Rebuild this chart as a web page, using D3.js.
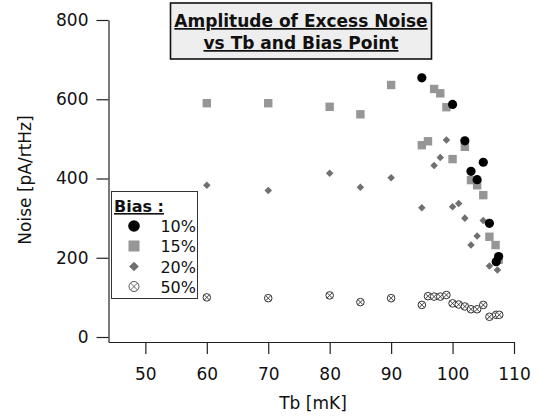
<!DOCTYPE html>
<html>
<head>
<meta charset="utf-8">
<script src="https://cdn.jsdelivr.net/npm/d3@7"></script>
<style>
  html, body { margin: 0; padding: 0; background: #fff; }
  svg { display: block; font-family: "DejaVu Sans", sans-serif; }
</style>
</head>
<body>
<div id="chart"></div>
<script>
// Données (Tb en mK, bruit en pA/rtHz)
const bias10 = [
  [95, 654], [100, 587], [102, 495], [103, 418], [104, 397],
  [105, 441], [106, 287], [107.1, 190], [107.5, 203]
];
const bias15 = [
  [60, 590], [70, 590], [80, 581], [85, 562], [90, 636],
  [95, 484], [96, 494], [97, 626], [98, 615], [99, 580],
  [100, 449], [102, 480], [103, 396], [104, 383], [105, 358],
  [106, 253], [107, 232], [107.5, 195]
];
const bias20 = [
  [60, 383], [70, 370], [80, 413], [85, 378], [90, 402],
  [95, 326], [97, 433], [98, 453], [99, 497], [100, 329],
  [101, 337], [102, 300], [103, 232], [104, 255], [105, 294],
  [106, 179], [107.3, 169]
];
const bias50 = [
  [60, 100], [70, 98], [80, 105], [85, 88], [90, 98],
  [95, 81], [96, 103], [97, 102], [98, 102], [99, 106],
  [100, 85], [101, 82], [102, 77], [103, 70], [104, 70],
  [105, 81], [106, 51], [107.1, 56], [107.6, 56]
];
const xTicks = [50, 60, 70, 80, 90, 100, 110];
const yTicks = [0, 200, 400, 600, 800];
const legendLabels = ["10%", "15%", "20%", "50%"];

const width = 539, height = 418;

const svg = d3.select('#chart').append('svg')
  .attr('width', width)
  .attr('height', height);

// Échelles
const x = d3.scaleLinear().domain([44, 110]).range([108.5, 514]);
const y = d3.scaleLinear().domain([-12.6, 800]).range([342, 20]);

// Axe X
const xAxis = svg.append('g')
  .attr('transform', `translate(0,${y(-12.6)})`)
  .call(d3.axisBottom(x).tickValues(xTicks).tickSize(12).tickSizeOuter(0).tickPadding(14));

// Axe Y
const yAxis = svg.append('g')
  .attr('transform', `translate(${x(44)},0)`)
  .call(d3.axisLeft(y).tickValues(yTicks).tickSize(12).tickSizeOuter(0).tickPadding(8));

[xAxis, yAxis].forEach(a => {
  a.select('.domain').attr('stroke', '#222').attr('stroke-width', 1.2);
  a.selectAll('.tick line').attr('stroke', '#222').attr('stroke-width', 1.2);
  a.selectAll('.tick text')
    .attr('fill', '#111')
    .style('font-family', '"DejaVu Sans", sans-serif')
    .style('font-size', '17px');
});

// Titres des axes
svg.append('text')
  .attr('x', 313).attr('y', 409)
  .attr('text-anchor', 'middle')
  .attr('font-size', 17)
  .attr('fill', '#111')
  .text('Tb [mK]');

svg.append('text')
  .attr('transform', 'translate(31,180) rotate(-90)')
  .attr('text-anchor', 'middle')
  .attr('font-size', 17)
  .attr('fill', '#111')
  .text('Noise [pA/rtHz]');

// Symboles
function drawCircleX(g, cx, cy, r, stroke) {
  g.append('circle')
    .attr('cx', cx).attr('cy', cy).attr('r', r)
    .attr('fill', '#fff').attr('stroke', stroke).attr('stroke-width', 1);
  const d = r * 0.7;
  g.append('path')
    .attr('d', `M${cx - d},${cy - d}L${cx + d},${cy + d}M${cx - d},${cy + d}L${cx + d},${cy - d}`)
    .attr('stroke', stroke).attr('stroke-width', 0.9);
}

const plot = svg.append('g');

// 50 %
const g50 = plot.append('g');
bias50.forEach(d => drawCircleX(g50, x(d[0]), y(d[1]), 3.8, '#333'));

// 20 %
plot.append('g').selectAll('path')
  .data(bias20)
  .enter().append('path')
  .attr('d', d3.symbol().type(d3.symbolDiamond2).size(36))
  .attr('transform', d => `translate(${x(d[0])},${y(d[1])})`)
  .attr('fill', '#707070');

// 15 %
plot.append('g').selectAll('rect')
  .data(bias15)
  .enter().append('rect')
  .attr('x', d => x(d[0]) - 4.2)
  .attr('y', d => y(d[1]) - 4.2)
  .attr('width', 8.4).attr('height', 8.4)
  .attr('fill', '#969696');

// 10 %
plot.append('g').selectAll('circle')
  .data(bias10)
  .enter().append('circle')
  .attr('cx', d => x(d[0]))
  .attr('cy', d => y(d[1]))
  .attr('r', 4.6)
  .attr('fill', '#000');

// Légende
const leg = svg.append('g');
leg.append('rect')
  .attr('x', 111.5).attr('y', 191.5)
  .attr('width', 86).attr('height', 107)
  .attr('fill', '#fff').attr('stroke', '#333').attr('stroke-width', 1);
leg.append('text')
  .attr('x', 114).attr('y', 212)
  .attr('font-size', 16).attr('font-weight', 'bold')
  .attr('text-decoration', 'underline')
  .attr('fill', '#111')
  .text('Bias :');

const rowY = [226, 246, 266.5, 286.5];
leg.append('circle').attr('cx', 134).attr('cy', rowY[0]).attr('r', 5.8).attr('fill', '#000');
leg.append('rect').attr('x', 128.5).attr('y', rowY[1] - 5.5).attr('width', 11).attr('height', 11).attr('fill', '#969696');
leg.append('path')
  .attr('d', d3.symbol().type(d3.symbolDiamond2).size(60))
  .attr('transform', `translate(134,${rowY[2]})`)
  .attr('fill', '#707070');
drawCircleX(leg, 134, rowY[3], 5, '#555');

leg.selectAll('text.lab')
  .data(legendLabels)
  .enter().append('text')
  .attr('class', 'lab')
  .attr('x', 196).attr('y', (d, i) => rowY[i] + 6)
  .attr('text-anchor', 'end')
  .attr('font-size', 16)
  .attr('fill', '#111')
  .text(d => d);

// Titre encadré
const tg = svg.append('g');
tg.append('rect')
  .attr('x', 170.5).attr('y', 3)
  .attr('width', 261).attr('height', 56)
  .attr('fill', '#eeeeee').attr('stroke', '#111').attr('stroke-width', 1.6);
['Amplitude of Excess Noise', 'vs Tb and Bias Point'].forEach((t, i) => {
  tg.append('text')
    .attr('x', 301).attr('y', 27 + i * 22)
    .attr('text-anchor', 'middle')
    .attr('font-size', 17).attr('font-weight', 'bold')
    .attr('text-decoration', 'underline')
    .attr('fill', '#111')
    .text(t);
});
</script>
</body>
</html>
